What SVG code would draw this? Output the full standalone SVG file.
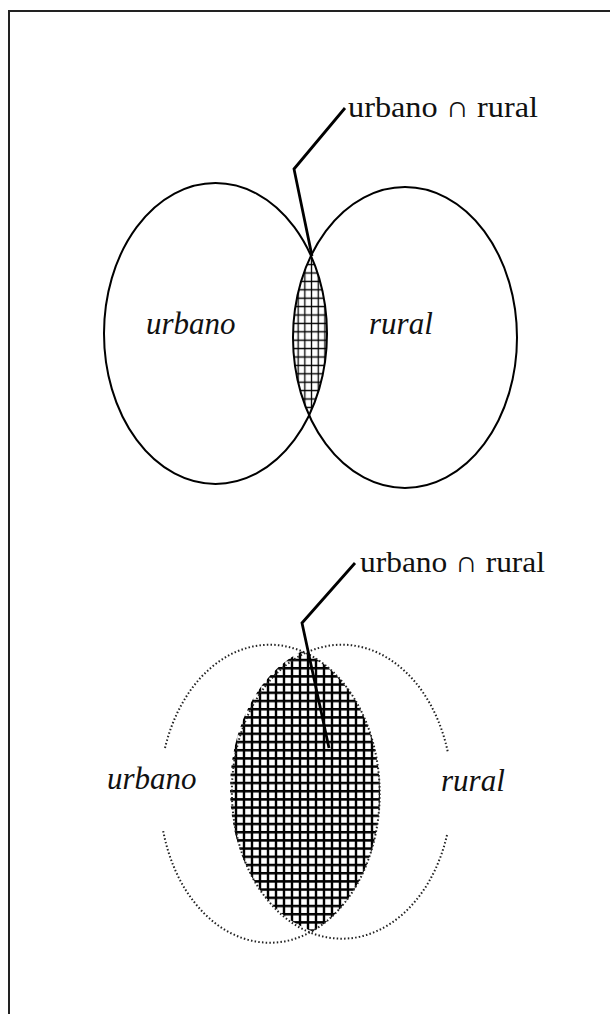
<svg xmlns="http://www.w3.org/2000/svg" width="610" height="1014" viewBox="0 0 610 1014">
<style>
.frame{fill:none;stroke:#222;stroke-width:2}
.solid{fill:none;stroke:#000;stroke-width:2}
.dot{fill:none;stroke:#222;stroke-width:2;stroke-dasharray:1.5 2.2}
.lead{fill:none;stroke:#000;stroke-width:2.8;stroke-linejoin:miter}
.lab{font-family:"Liberation Serif",serif;font-style:italic;font-size:31px;fill:#111}
.cap{font-family:"Liberation Serif","DejaVu Serif",serif;font-size:30px;fill:#111}
</style>
<defs>
<pattern id="gridA" patternUnits="userSpaceOnUse" width="6.7" height="8.4" x="0" y="0">
<path d="M3.35 0V8.4M0 4.2H6.7" stroke="#000" stroke-width="1.3"/>
</pattern>
<pattern id="gridB" patternUnits="userSpaceOnUse" width="8" height="8.2" x="0" y="0">
<path d="M4 0V8.2M0 4H8" stroke="#000" stroke-width="2.4"/>
</pattern>
<clipPath id="cLA"><ellipse cx="215.5" cy="333.5" rx="111.5" ry="150.5"/></clipPath>
<clipPath id="cRA"><ellipse cx="405" cy="337.5" rx="112" ry="150.5"/></clipPath>
<clipPath id="cLB"><ellipse cx="270" cy="794" rx="110" ry="149"/></clipPath>
<clipPath id="cRB"><ellipse cx="340" cy="789" rx="110" ry="147"/></clipPath>
</defs>
<g id="frame"><path class="frame" d="M9 1014V11H610"/></g>

<g id="top-intersection">
<g clip-path="url(#cLA)"><rect x="280" y="240" width="60" height="190" fill="url(#gridA)" clip-path="url(#cRA)"/></g>
</g>
<g id="top-urbano">
<ellipse class="solid" cx="215.5" cy="333.5" rx="111.5" ry="150.5"/>
<text class="lab" x="146" y="334">urbano</text>
</g>
<g id="top-rural">
<ellipse class="solid" cx="405" cy="337.5" rx="112" ry="150.5"/>
<text class="lab" x="369" y="334">rural</text>
</g>
<g id="top-label">
<text class="cap" x="348" y="117" textLength="190" lengthAdjust="spacingAndGlyphs">urbano ∩ rural</text>
</g>

<g id="bottom-intersection">
<g clip-path="url(#cLB)"><rect x="220" y="640" width="170" height="300" fill="url(#gridB)" clip-path="url(#cRB)"/></g>
</g>
<g id="bottom-urbano">
<path class="dot" d="M165 748 A110 149 0 1 1 163 830"/>
<text class="lab" x="107" y="789">urbano</text>
</g>
<g id="bottom-rural">
<path class="dot" d="M447 835 A110 147 0 1 1 448 753"/>
<text class="lab" x="441" y="791">rural</text>
</g>
<g id="bottom-label">
<text class="cap" x="360" y="572" textLength="185" lengthAdjust="spacingAndGlyphs">urbano ∩ rural</text>
</g>

<g id="connectors">
<path class="lead" d="M345 108L294 169L312 256"/>
<path class="lead" d="M355 563L302 623L329 748"/>
</g>
</svg>
